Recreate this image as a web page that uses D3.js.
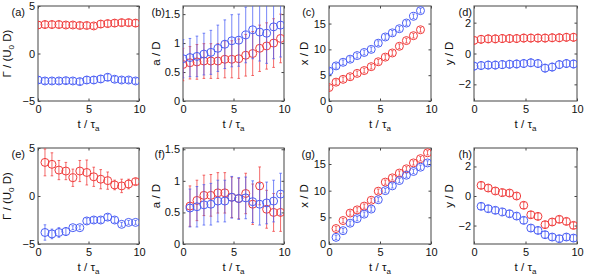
<!DOCTYPE html>
<html>
<head>
<meta charset="utf-8">
<script src="https://cdn.jsdelivr.net/npm/d3@7"></script>
<style>
  body { margin: 0; background: #fff; }
  text { font-family: "Liberation Sans", Arial, sans-serif; fill: #111; }
</style>
</head>
<body>
<script>
// Time axis (t / tau_a)
var tTop = [0, 0.69, 1.38, 2.07, 2.76, 3.45, 4.14, 4.83, 5.52, 6.21, 6.9, 7.59, 8.28, 8.97, 9.66];
var tTopC = [0, 0.69, 1.38, 2.07, 2.76, 3.45, 4.14, 4.83, 5.52, 6.21, 6.9, 7.59, 8.28, 8.97];
var tBot = [0.69, 1.38, 2.07, 2.76, 3.45, 4.14, 4.83, 5.52, 6.21, 6.9, 7.59, 8.28, 8.97, 9.66];

// (a) circulation
var gamRedA = [3.0, 3.05, 3.05, 3.05, 3.0, 3.0, 2.95, 2.95, 2.9, 3.1, 3.15, 3.2, 3.25, 3.25, 3.2];
var gamRedAErr = [0.35, 0.35, 0.35, 0.35, 0.3, 0.3, 0.3, 0.3, 0.3, 0.35, 0.35, 0.35, 0.35, 0.35, 0.35];
var gamBlueA = [-2.79, -2.89, -2.89, -2.89, -2.86, -2.89, -2.96, -2.79, -2.79, -2.68, -2.5, -2.71, -2.79, -2.79, -2.89];
var gamBlueAErr = [0.3, 0.3, 0.3, 0.3, 0.3, 0.3, 0.3, 0.35, 0.35, 0.35, 0.35, 0.3, 0.3, 0.3, 0.3];

// (b) core size
var aRedB = [0.63, 0.66, 0.675, 0.69, 0.69, 0.69, 0.72, 0.72, 0.73, 0.79, 0.82, 0.91, 0.95, 1.0, 1.08];
var aRedBErr = [0.28, 0.28, 0.3, 0.3, 0.3, 0.3, 0.32, 0.32, 0.34, 0.36, 0.38, 0.4, 0.4, 0.42, 0.42];
var aBlueB = [0.73, 0.75, 0.77, 0.81, 0.84, 0.91, 0.98, 1.04, 1.05, 1.14, 1.23, 1.19, 1.17, 1.28, 1.31];
var aBlueBErr = [0.33, 0.33, 0.35, 0.36, 0.38, 0.4, 0.42, 0.45, 0.45, 0.48, 0.5, 0.5, 0.52, 0.55, 0.55];

// (c) x position
var xRedC = [2.6, 3.65, 4.2, 4.7, 5.35, 5.9, 6.65, 7.6, 8.5, 9.3, 10.6, 11.7, 12.65, 13.8];
var xRedCErr = [0.45, 0.45, 0.45, 0.45, 0.45, 0.45, 0.45, 0.45, 0.45, 0.45, 0.45, 0.45, 0.45, 0.45];
var xBlueC = [5.8, 6.8, 7.5, 8.1, 8.8, 9.4, 10.0, 11.2, 12.4, 13.2, 14.0, 15.1, 16.4, 17.5];
var xBlueCErr = [0.45, 0.45, 0.45, 0.45, 0.45, 0.45, 0.45, 0.45, 0.45, 0.45, 0.45, 0.45, 0.45, 0.45];

// (d) y position
var yRedD = [0.85, 0.92, 0.95, 0.95, 0.97, 0.97, 0.97, 1.0, 1.0, 1.0, 1.0, 1.02, 1.02, 1.05, 1.05];
var yRedDErr = [0.25, 0.25, 0.25, 0.25, 0.25, 0.25, 0.25, 0.25, 0.25, 0.25, 0.25, 0.25, 0.25, 0.25, 0.25];
var yBlueD = [-0.82, -0.78, -0.75, -0.75, -0.72, -0.7, -0.68, -0.65, -0.6, -0.65, -0.95, -0.88, -0.72, -0.65, -0.68];
var yBlueDErr = [0.25, 0.25, 0.25, 0.25, 0.25, 0.25, 0.25, 0.25, 0.25, 0.25, 0.25, 0.25, 0.25, 0.25, 0.25];

// (e) circulation
var gamRedE = [3.5, 3.3, 2.7, 2.6, 1.9, 2.6, 2.45, 2.0, 1.75, 1.6, 1.15, 1.05, 1.25, 1.5];
var gamRedEErr = [1.4, 1.2, 1.0, 0.9, 0.9, 1.1, 1.3, 1.0, 1.0, 0.9, 0.5, 0.7, 0.5, 0.3];
var gamBlueE = [-3.8, -3.95, -3.8, -3.7, -3.3, -3.3, -2.6, -2.5, -2.5, -2.2, -2.5, -2.95, -2.75, -2.75];
var gamBlueEErr = [0.8, 0.5, 0.5, 0.4, 0.2, 0.2, 0.3, 0.3, 0.3, 0.3, 0.3, 0.2, 0.2, 0.2];

// (f) core size
var aRedF = [0.6, 0.69, 0.77, 0.77, 0.81, 0.81, 0.74, 0.72, 0.8, 0.63, 0.92, 0.55, 0.5, 0.5];
var aRedFErr = [0.32, 0.32, 0.32, 0.33, 0.32, 0.32, 0.32, 0.32, 0.32, 0.32, 0.3, 0.3, 0.3, 0.3];
var aBlueF = [0.57, 0.59, 0.62, 0.63, 0.68, 0.68, 0.74, 0.72, 0.73, 0.67, 0.63, 0.65, 0.68, 0.79];
var aBlueFErr = [0.3, 0.32, 0.32, 0.33, 0.33, 0.33, 0.33, 0.33, 0.33, 0.33, 0.33, 0.33, 0.33, 0.33];

// (g) x position
var xRedG = [2.9, 4.4, 5.8, 6.4, 7.1, 8.2, 9.9, 11.6, 12.4, 13.3, 14.1, 15.2, 16.0, 17.1];
var xRedGErr = [0.4, 0.4, 0.4, 0.4, 0.4, 0.4, 0.4, 0.4, 0.4, 0.4, 0.4, 0.4, 0.4, 0.4];
var xBlueG = [1.25, 2.5, 3.9, 4.75, 5.6, 6.55, 8.3, 10.0, 10.9, 11.9, 12.9, 13.6, 14.4, 15.2];
var xBlueGErr = [0.4, 0.4, 0.4, 0.4, 0.4, 0.4, 0.4, 0.4, 0.4, 0.4, 0.4, 0.4, 0.4, 0.4];

// (h) y position
var yRedH = [0.72, 0.54, 0.34, 0.23, 0.2, 0.0, -0.63, -1.27, -1.38, -1.94, -1.76, -1.58, -1.72, -1.99];
var yRedHErr = [0.22, 0.22, 0.22, 0.22, 0.22, 0.22, 0.22, 0.22, 0.22, 0.22, 0.22, 0.22, 0.22, 0.22];
var yBlueH = [-0.7, -0.86, -0.97, -1.08, -1.2, -1.36, -1.65, -2.17, -2.33, -2.62, -2.78, -2.89, -2.78, -2.85];
var yBlueHErr = [0.22, 0.22, 0.22, 0.22, 0.22, 0.22, 0.22, 0.22, 0.22, 0.22, 0.22, 0.22, 0.22, 0.22];

// Ticks / limits
var xTicks = [0, 5, 10];
var gamTicks = [-5, 0, 5];
var aTicks = [0, 0.5, 1, 1.5];
var xPosTicks = [0, 5, 10, 15];
var yPosTicks = [-2, 0, 2];

var red = "#f03a3a";
var blue = "#4a5ef5";

var width = 598, height = 276;
var colX = [38, 183, 329, 474];
var colW = [101, 101, 102, 103];
var rowY = [6, 148];
var rowH = [95, 96];
var letterX = [25, 165, 315, 472];
var ylabOff = [27, 23, 21, 21];

var panels = [
  {tag: "(a)", row: 0, col: 0, label: "gam", dom: [-5, 5], ticks: gamTicks, t: tTop, red: gamRedA, redErr: gamRedAErr, blue: gamBlueA, blueErr: gamBlueAErr},
  {tag: "(b)", row: 0, col: 1, label: "a / D", dom: [0, 1.64], ticks: aTicks, t: tTop, red: aRedB, redErr: aRedBErr, blue: aBlueB, blueErr: aBlueBErr},
  {tag: "(c)", row: 0, col: 2, label: "x / D", dom: [0, 18.4], ticks: xPosTicks, t: tTopC, red: xRedC, redErr: xRedCErr, blue: xBlueC, blueErr: xBlueCErr},
  {tag: "(d)", row: 0, col: 3, label: "y / D", dom: [-3.08, 3.08], ticks: yPosTicks, t: tTop, red: yRedD, redErr: yRedDErr, blue: yBlueD, blueErr: yBlueDErr},
  {tag: "(e)", row: 1, col: 0, label: "gam", dom: [-5, 5], ticks: gamTicks, t: tBot, red: gamRedE, redErr: gamRedEErr, blue: gamBlueE, blueErr: gamBlueEErr},
  {tag: "(f)", row: 1, col: 1, label: "a / D", dom: [0, 1.52], ticks: aTicks, t: tBot, red: aRedF, redErr: aRedFErr, blue: aBlueF, blueErr: aBlueFErr},
  {tag: "(g)", row: 1, col: 2, label: "x / D", dom: [0, 18], ticks: xPosTicks, t: tBot, red: xRedG, redErr: xRedGErr, blue: xBlueG, blueErr: xBlueGErr},
  {tag: "(h)", row: 1, col: 3, label: "y / D", dom: [-3.25, 3.25], ticks: yPosTicks, t: tBot, red: yRedH, redErr: yRedHErr, blue: yBlueH, blueErr: yBlueHErr}
];

var svg = d3.select("body").append("svg")
    .attr("width", width).attr("height", height);

var fmt = d3.format("");

panels.forEach(function(p, i) {
    var x0 = colX[p.col], y0 = rowY[p.row];
    var w = colW[p.col], h = rowH[p.row];

    var xs = d3.scaleLinear().domain([0, 10]).range([0, w]);
    var ys = d3.scaleLinear().domain(p.dom).range([h, 0]);

    var g = svg.append("g").attr("transform", "translate(" + x0 + "," + y0 + ")");

    svg.append("clipPath").attr("id", "clip" + i)
        .append("rect").attr("width", w).attr("height", h);

    // ticks on all four sides, pointing in
    var tl = 2.5;
    g.append("g").attr("transform", "translate(0," + h + ")")
        .call(d3.axisBottom(xs).tickValues(xTicks).tickSize(-tl).tickPadding(4).tickFormat(fmt));
    g.append("g")
        .call(d3.axisTop(xs).tickValues(xTicks).tickSize(-tl).tickFormat(""));
    g.append("g")
        .call(d3.axisLeft(ys).tickValues(p.ticks).tickSize(-tl).tickPadding(3).tickFormat(d3.format("")));
    g.append("g").attr("transform", "translate(" + w + ",0)")
        .call(d3.axisRight(ys).tickValues(p.ticks).tickSize(-tl).tickFormat(""));

    g.selectAll(".domain").remove();
    g.selectAll(".tick line").attr("stroke", "#444");
    g.selectAll(".tick text").attr("font-size", 11).attr("fill", "#111")
        .style("font-family", "'Liberation Sans', Arial, sans-serif");

    g.append("rect").attr("width", w).attr("height", h)
        .attr("fill", "none").attr("stroke", "#555").attr("stroke-width", 1.1);

    // data
    var plot = g.append("g").attr("clip-path", "url(#clip" + i + ")");
    [["red", red, p.red, p.redErr], ["blue", blue, p.blue, p.blueErr]].forEach(function(s) {
        var rows = s[2].map(function(v, k) { return {t: p.t[k], v: v, e: s[3][k]}; });
        var sg = plot.append("g").attr("class", s[0]);
        sg.selectAll("line.bar").data(rows).enter().append("line")
            .attr("class", "bar")
            .attr("x1", function(d) { return xs(d.t); })
            .attr("x2", function(d) { return xs(d.t); })
            .attr("y1", function(d) { return ys(d.v - d.e); })
            .attr("y2", function(d) { return ys(d.v + d.e); })
            .attr("stroke", s[1]).attr("stroke-opacity", 0.75).attr("stroke-width", 1);
        [-1, 1].forEach(function(sgn) {
            sg.selectAll("line.cap" + sgn).data(rows).enter().append("line")
                .attr("x1", function(d) { return xs(d.t) - 1.3; })
                .attr("x2", function(d) { return xs(d.t) + 1.3; })
                .attr("y1", function(d) { return ys(d.v + sgn * d.e); })
                .attr("y2", function(d) { return ys(d.v + sgn * d.e); })
                .attr("stroke", s[1]).attr("stroke-opacity", 0.75).attr("stroke-width", 1);
        });
        sg.selectAll("circle").data(rows).enter().append("circle")
            .attr("cx", function(d) { return xs(d.t); })
            .attr("cy", function(d) { return ys(d.v); })
            .attr("r", 4)
            .attr("fill", "none")
            .attr("stroke", s[1]).attr("stroke-width", 1);
    });

    // panel letter
    svg.append("text")
        .attr("x", letterX[p.col]).attr("y", y0 + 9.5)
        .attr("text-anchor", "end").attr("font-size", 11)
        .text(p.tag);

    // x label
    var xl = svg.append("text")
        .attr("x", x0 + w / 2).attr("y", y0 + h + 27)
        .attr("text-anchor", "middle").attr("font-size", 11.5);
    xl.append("tspan").text("t / \u03C4");
    xl.append("tspan").attr("font-size", 8).attr("dy", 3).text("a");

    // y label
    var yl = svg.append("text")
        .attr("transform", "translate(" + (x0 - ylabOff[p.col]) + "," + (y0 + h / 2) + ") rotate(-90)")
        .attr("text-anchor", "middle").attr("font-size", 11.5);
    if (p.label === "gam") {
        yl.append("tspan").text("\u0393 / (U");
        yl.append("tspan").attr("font-size", 8).attr("dy", 3).text("0");
        yl.append("tspan").attr("dy", -3).text(" D)");
    } else {
        yl.text(p.label);
    }
});
</script>
</body>
</html>
